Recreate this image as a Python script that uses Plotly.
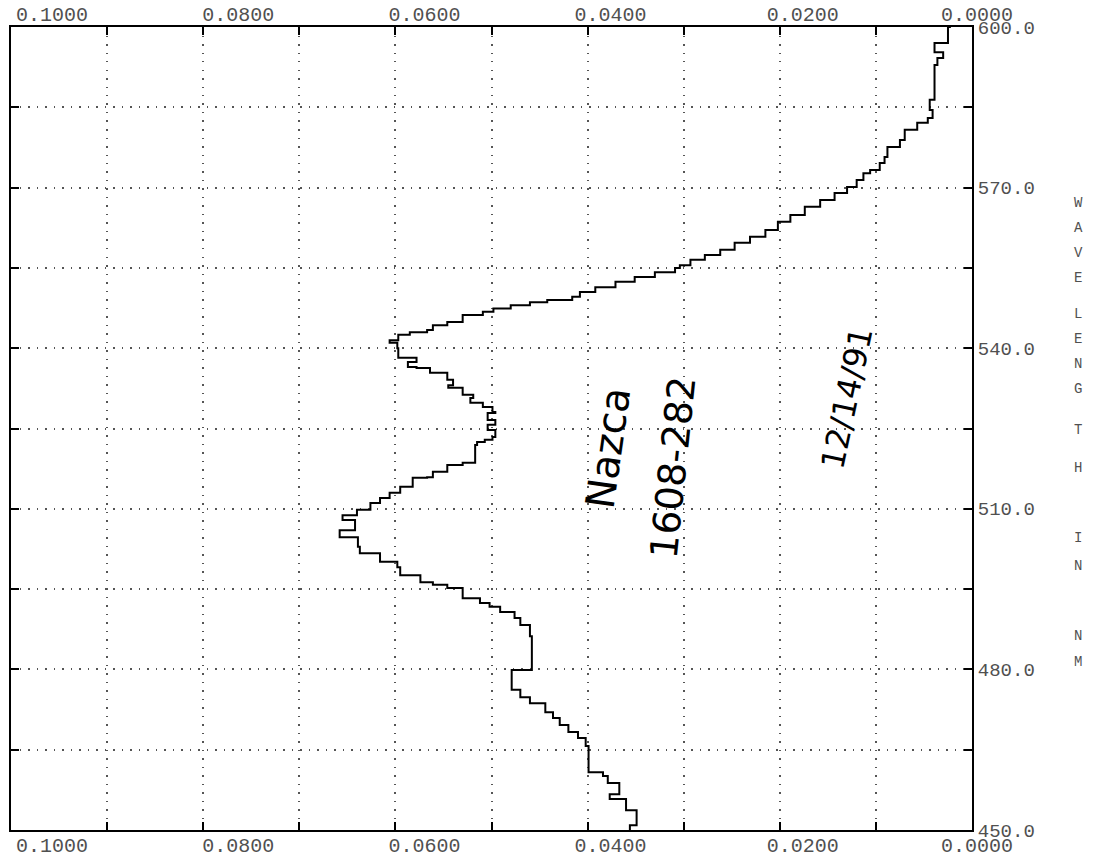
import plotly.graph_objects as go

# Wavelength (nm) and reflectance (bottom to top)
wavelength = [450.0, 450.9, 453.7, 455.8, 456.7, 458.8, 460.1, 460.8, 464.6, 465.7,
              467.2, 468.3, 469.6, 470.9, 472.0, 473.7, 474.8, 476.2, 479.5, 479.9,
              483.6, 486.2, 488.3, 489.6, 490.7, 491.7, 492.4, 493.3, 495.2, 495.8,
              496.3, 497.6, 499.1, 500.1, 501.7, 502.9, 504.7, 506.0, 507.9, 508.8,
              509.8, 511.1, 512.0, 513.0, 514.1, 515.8, 515.9, 516.9, 518.2, 518.6,
              521.9, 522.5, 522.9, 523.4, 524.7, 525.7, 526.6, 527.9, 528.1, 529.0,
              529.8, 530.7, 531.3, 532.6, 533.1, 534.1, 535.4, 536.3, 536.5, 537.4,
              538.2, 540.0, 541.0, 541.5, 542.5, 543.0, 543.4, 544.3, 544.9, 546.2,
              546.8, 547.4, 548.0, 548.6, 549.0, 549.6, 550.5, 551.4, 552.4, 553.3,
              554.2, 555.0, 555.5, 556.5, 557.4, 558.4, 559.7, 560.8, 562.1, 563.6,
              564.9, 566.4, 567.7, 569.0, 570.1, 571.4, 572.7, 573.3, 574.6, 575.7,
              577.6, 578.9, 580.8, 582.1, 583.0, 584.5, 586.4, 592.9, 594.2, 595.3,
              597.0, 599.4, 600.0]
reflectance = [0.0356, 0.0349, 0.0360, 0.0377, 0.0367, 0.0379, 0.0384, 0.0399, 0.0399, 0.0402,
               0.0410, 0.0420, 0.0429, 0.0436, 0.0444, 0.0460, 0.0470, 0.0479, 0.0479, 0.0458,
               0.0458, 0.0460, 0.0470, 0.0476, 0.0491, 0.0502, 0.0512, 0.0530, 0.0546, 0.0561,
               0.0574, 0.0595, 0.0598, 0.0616, 0.0637, 0.0639, 0.0658, 0.0642, 0.0655, 0.0640,
               0.0626, 0.0616, 0.0606, 0.0595, 0.0582, 0.0567, 0.0561, 0.0546, 0.0530, 0.0517,
               0.0515, 0.0507, 0.0499, 0.0496, 0.0504, 0.0496, 0.0504, 0.0496, 0.0499, 0.0509,
               0.0522, 0.0519, 0.0530, 0.0545, 0.0540, 0.0546, 0.0564, 0.0578, 0.0587, 0.0578,
               0.0597, 0.0598, 0.0606, 0.0597, 0.0585, 0.0567, 0.0561, 0.0546, 0.0530, 0.0509,
               0.0498, 0.0480, 0.0460, 0.0442, 0.0416, 0.0408, 0.0392, 0.0371, 0.0351, 0.0330,
               0.0309, 0.0304, 0.0293, 0.0278, 0.0262, 0.0247, 0.0231, 0.0215, 0.0202, 0.0189,
               0.0174, 0.0158, 0.0143, 0.0130, 0.0120, 0.0113, 0.0106, 0.0096, 0.0091, 0.0088,
               0.0075, 0.0070, 0.0057, 0.0046, 0.0041, 0.0044, 0.0039, 0.0036, 0.0030, 0.0039,
               0.0025, 0.0025, 0.0022]

x_ticks = [0.10, 0.08, 0.06, 0.04, 0.02, 0.00]
x_ticklabels = ["0.1000", "0.0800", "0.0600", "0.0400", "0.0200", "0.0000"]
y_ticks = [450, 480, 510, 540, 570, 600]
y_ticklabels = ["450.0", "480.0", "510.0", "540.0", "570.0", "600.0"]
axis_title_letters = ["W", "A", "V", "E", "L", "E", "N", "G", "T", "H", "", "I", "N", "", "N", "M"]
notes = ["Nazca", "1608-282", "12/14/91"]

FONT = "Liberation Mono"
TXT = "#505050"
GRID = "#555555"
DASH = "1.5px,7px"

# plotter placed each x label right of its tick by a varying amount:
# global shift, then trailing non-breaking spaces pull some labels back left
label_pad = [0, 1, 2, 3, 3, 6]
NBSP = "\u00a0"
x_ticktext = [t + NBSP * p for p, t in zip(label_pad, x_ticklabels)]

W, H = 1102, 860
PL, PT, PR, PB = 11, 27, 972, 830  # plot area in pixels

fig = go.Figure()
fig.add_trace(go.Scatter(x=reflectance, y=wavelength, mode="lines",
                         line=dict(color="black", width=2, shape="vh"),
                         showlegend=False, hoverinfo="skip"))
fig.add_trace(go.Scatter(x=reflectance, y=wavelength, xaxis="x2", mode="lines",
                         line=dict(color="rgba(0,0,0,0)", width=0),
                         showlegend=False, hoverinfo="skip"))

xcommon = dict(range=[0.1, 0.0], tickmode="array", tickvals=x_ticks, ticktext=x_ticktext,
               ticks="inside", ticklen=8, tickwidth=2, tickcolor="black",
               showline=True, linewidth=2, linecolor="black", zeroline=False,
               automargin=False, ticklabelstandoff=-4,
               tickfont=dict(family=FONT, size=20, color=TXT),
               ticklabelshift=-41,
               minor=dict(dtick=0.01, ticks="inside", ticklen=8, tickwidth=2,
                          tickcolor="black", showgrid=True, gridcolor=GRID,
                          gridwidth=1.5, griddash=DASH))

fig.update_layout(
    width=W, height=H,
    margin=dict(l=PL, r=W - PR, t=PT, b=H - PB),
    paper_bgcolor="white", plot_bgcolor="white",
    xaxis=dict(**xcommon, side="bottom", showgrid=True, gridcolor=GRID,
               gridwidth=1.5, griddash=DASH),
    xaxis2=dict(**xcommon, side="top", overlaying="x", matches="x", showgrid=False),
    yaxis=dict(range=[450, 600], tickmode="array", tickvals=y_ticks, ticktext=y_ticklabels,
               side="right", automargin=False,
               ticks="inside", ticklen=8, tickwidth=2, tickcolor="black",
               showline=True, linewidth=2, linecolor="black", mirror="ticks",
               zeroline=False, showgrid=True, gridcolor=GRID, gridwidth=1.5,
               griddash=DASH, ticklabelstandoff=0,
               tickfont=dict(family=FONT, size=19, color=TXT),
               minor=dict(dtick=15, ticks="inside", ticklen=8, tickwidth=2,
                          tickcolor="black", showgrid=True, gridcolor=GRID,
                          gridwidth=1.5, griddash=DASH)),
)

def px_to_paper(xpx, ypx):
    return (xpx - PL) / (PR - PL), (PB - ypx) / (PB - PT)

# stacked vertical axis title on the right
y_positions = [203, 228, 253, 278, 314, 339, 364, 389, 430, 468, 0, 538, 566, 0, 636, 662]
for letter, ypx in zip(axis_title_letters, y_positions):
    if not letter:
        continue
    px, py = px_to_paper(1078, ypx)
    fig.add_annotation(text=letter, xref="paper", yref="paper", x=px, y=py,
                       xanchor="center", yanchor="middle",
                       showarrow=False, font=dict(family=FONT, size=14, color=TXT))

# handwritten notes
hand = dict(family="DejaVu Sans", color="black")
for text, (cx, cy), ang, size in zip(notes, [(608, 448), (673, 468), (847, 398)],
                                     [-82, -84, -78], [40, 38, 32]):
    px, py = px_to_paper(cx, cy)
    fig.add_annotation(text=text, xref="paper", yref="paper", x=px, y=py,
                       xanchor="center", yanchor="middle", showarrow=False,
                       textangle=ang, font=dict(size=size, **hand))

fig.write_html("out.html", config={"displayModeBar": False},
               post_script="document.body.style.margin='0';"
                           "document.body.style.overflow='hidden';")
